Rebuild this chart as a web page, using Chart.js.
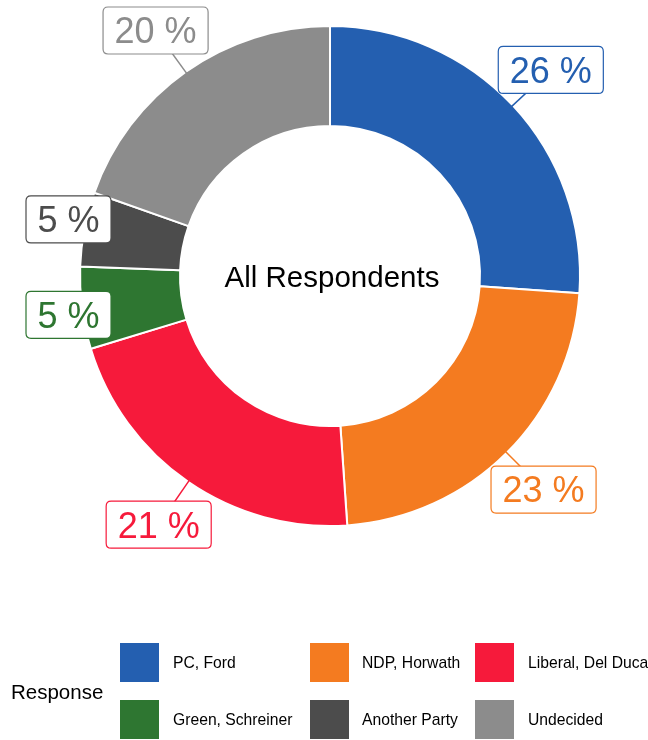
<!DOCTYPE html>
<html><head><meta charset="utf-8">
<script src="https://cdn.jsdelivr.net/npm/chart.js@4/dist/chart.umd.min.js"></script>
<style>html,body{margin:0;padding:0;background:#fff;overflow:hidden}</style>
</head><body>
<canvas id="c" width="648" height="740"></canvas>
<script>
const categories = ["PC, Ford", "NDP, Horwath", "Liberal, Del Duca", "Green, Schreiner", "Another Party", "Undecided"];
const shares = [26.1, 22.8, 21.4, 5.3, 4.8, 19.6];
const colours = ["#245fb0", "#f47b20", "#f61a3b", "#2e7631", "#4c4c4c", "#8c8c8c"];
const centreTitle = "All Respondents";
const legendTitle = "Response";

const FONT = '"Liberation Sans", Arial, Helvetica, sans-serif';

function roundRect(ctx, x, y, w, h, r) {
  ctx.beginPath();
  ctx.moveTo(x + r, y);
  ctx.lineTo(x + w - r, y);
  ctx.quadraticCurveTo(x + w, y, x + w, y + r);
  ctx.lineTo(x + w, y + h - r);
  ctx.quadraticCurveTo(x + w, y + h, x + w - r, y + h);
  ctx.lineTo(x + r, y + h);
  ctx.quadraticCurveTo(x, y + h, x, y + h - r);
  ctx.lineTo(x, y + r);
  ctx.quadraticCurveTo(x, y, x + r, y);
  ctx.closePath();
}

const boxLabels = {
  id: 'boxLabels',
  afterDatasetsDraw(chart) {
    const ctx = chart.ctx;
    const meta = chart.getDatasetMeta(0);
    ctx.save();
    const fs = 36;
    ctx.font = fs + 'px ' + FONT;
    meta.data.forEach((arc, i) => {
      const p = arc.getProps(['x', 'y', 'startAngle', 'endAngle', 'outerRadius'], true);
      const mid = (p.startAngle + p.endAngle) / 2;
      const ax = p.x + Math.cos(mid) * (p.outerRadius - 4);
      const ay = p.y + Math.sin(mid) * (p.outerRadius - 4);
      let lx = p.x + Math.cos(mid) * (p.outerRadius + 52);
      let ly = p.y + Math.sin(mid) * (p.outerRadius + 52);
      const text = Math.round(shares[i]) + ' %';
      const tw = ctx.measureText(text).width;
      const bw = tw + 23, bh = 47;
      lx = Math.max(26 + bw / 2, Math.min(chart.width - 26 - bw / 2, lx));
      ly = Math.max(7 + bh / 2, ly);
      ctx.strokeStyle = colours[i];
      ctx.lineWidth = 1.5;
      ctx.beginPath(); ctx.moveTo(ax, ay); ctx.lineTo(lx, ly); ctx.stroke();
      roundRect(ctx, lx - bw / 2, ly - bh / 2, bw, bh, 5);
      ctx.fillStyle = '#fff';
      ctx.fill();
      ctx.lineWidth = 1.2;
      ctx.stroke();
      ctx.fillStyle = colours[i];
      ctx.textAlign = 'center';
      ctx.textBaseline = 'alphabetic';
      ctx.fillText(text, lx, ly + 0.716 * fs / 2);
    });
    ctx.restore();
  }
};

const centreText = {
  id: 'centreText',
  afterDatasetsDraw(chart) {
    const ctx = chart.ctx;
    const arc = chart.getDatasetMeta(0).data[0];
    const fs = 29.5;
    ctx.save();
    ctx.font = fs + 'px ' + FONT;
    ctx.fillStyle = '#000';
    ctx.textAlign = 'center';
    ctx.textBaseline = 'alphabetic';
    ctx.fillText(centreTitle, arc.x + 2, arc.y + 0.716 * fs / 2);
    ctx.restore();
  }
};

const gridLegend = {
  id: 'gridLegend',
  afterDraw(chart) {
    const ctx = chart.ctx;
    ctx.save();
    ctx.font = '20.5px ' + FONT;
    ctx.fillStyle = '#000';
    ctx.textBaseline = 'alphabetic';
    ctx.textAlign = 'left';
    ctx.fillText(legendTitle, 11, 692 + 0.716 * 20.5 / 2);
    const swatchX = [120, 310, 475];
    const textX = [173, 362, 528];
    const rowY = [643, 700];
    const sw = 39;
    ctx.font = '15.7px ' + FONT;
    chart.data.labels.forEach((lab, i) => {
      const col = i % 3, row = Math.floor(i / 3);
      ctx.fillStyle = colours[i];
      ctx.fillRect(swatchX[col], rowY[row], sw, sw);
      ctx.fillStyle = '#000';
      ctx.fillText(lab, textX[col], rowY[row] + sw / 2 + 0.716 * 15.7 / 2);
    });
    ctx.restore();
  }
};

new Chart(document.getElementById('c'), {
  type: 'doughnut',
  data: {
    labels: categories,
    datasets: [{
      data: shares,
      backgroundColor: colours,
      borderColor: '#ffffff',
      borderWidth: 2
    }]
  },
  options: {
    responsive: false,
    animation: false,
    events: [],
    cutout: '60%',
    layout: { padding: { left: 79, right: 67, top: 25, bottom: 213 } },
    plugins: {
      legend: { display: false },
      tooltip: { enabled: false },
      title: { display: false }
    }
  },
  plugins: [boxLabels, centreText, gridLegend]
});
</script>
</body></html>
